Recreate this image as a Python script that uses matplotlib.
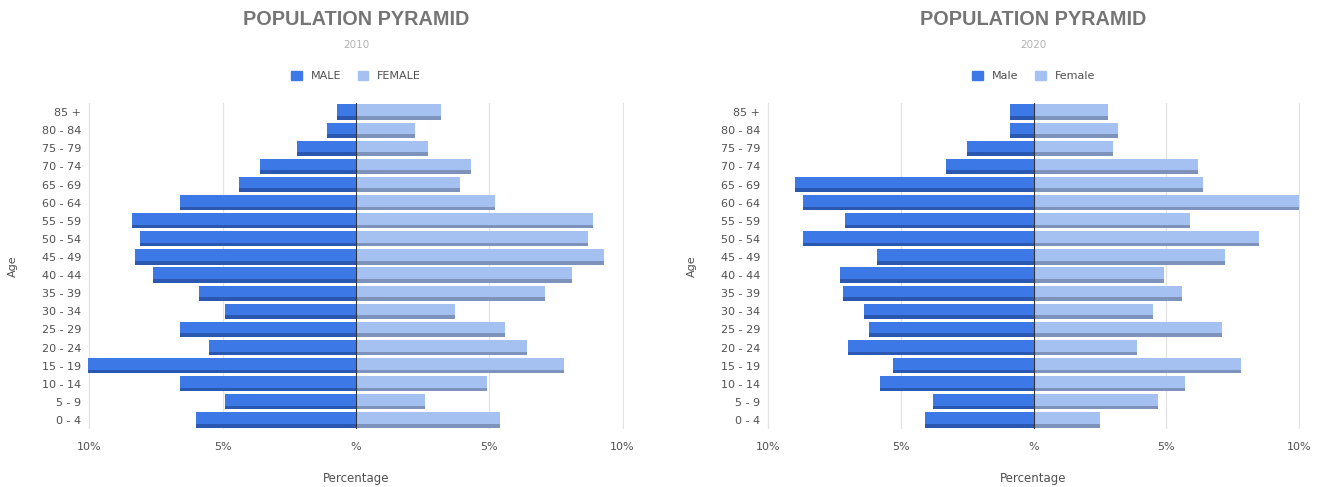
import numpy as np
import matplotlib.pyplot as plt
from matplotlib.patches import Patch

plt.rcParams['font.family'] = ['DejaVu Sans']

age_groups = ["0 - 4", "5 - 9", "10 - 14", "15 - 19", "20 - 24", "25 - 29", "30 - 34",
              "35 - 39", "40 - 44", "45 - 49", "50 - 54", "55 - 59", "60 - 64",
              "65 - 69", "70 - 74", "75 - 79", "80 - 84", "85 +"]

# percentages, listed from youngest to oldest
male_2010 = [6.0, 4.9, 6.6, 10.2, 5.5, 6.6, 4.9, 5.9, 7.6, 8.3, 8.1, 8.4, 6.6, 4.4, 3.6, 2.2, 1.1, 0.7]
female_2010 = [5.4, 2.6, 4.9, 7.8, 6.4, 5.6, 3.7, 7.1, 8.1, 9.3, 8.7, 8.9, 5.2, 3.9, 4.3, 2.7, 2.2, 3.2]
male_2020 = [4.1, 3.8, 5.8, 5.3, 7.0, 6.2, 6.4, 7.2, 7.3, 5.9, 8.7, 7.1, 8.7, 9.0, 3.3, 2.5, 0.9, 0.9]
female_2020 = [2.5, 4.7, 5.7, 7.8, 3.9, 7.1, 4.5, 5.6, 4.9, 7.2, 8.5, 5.9, 10.0, 6.4, 6.2, 3.0, 3.2, 2.8]

x_ticks = [-10, -5, 0, 5, 10]
x_ticklabels = ["10%", "5%", "%", "5%", "10%"]

MALE = "#3c78e6"
MALE_DARK = "#2a57b0"
FEMALE = "#a5c1f2"
FEMALE_DARK = "#7d93bb"
TEXT = "#505050"


def pyramid(ax, male, female, year, labels):
    y = np.arange(len(age_groups))
    h = 0.84
    male = -np.array(male)
    female = np.array(female)
    ax.barh(y, male, height=h, color=MALE, zorder=2)
    ax.barh(y, female, height=h, color=FEMALE, zorder=2)
    # darker bottom strip gives the bars their shaded look
    ax.barh(y - h / 2 + 0.1, male, height=0.2, color=MALE_DARK, zorder=3)
    ax.barh(y - h / 2 + 0.1, female, height=0.2, color=FEMALE_DARK, zorder=3)

    ax.set_xlim(-10.05, 10.05)
    ax.set_ylim(-0.5, len(age_groups) - 0.5)
    ax.set_yticks(y)
    ax.set_yticklabels(age_groups)
    ax.set_xticks(x_ticks)
    ax.set_xticklabels(x_ticklabels)
    ax.tick_params(axis="y", length=0, labelsize=8, labelcolor=TEXT, pad=5)
    ax.tick_params(axis="x", length=0, labelsize=8, labelcolor=TEXT, pad=9)
    for s in ax.spines.values():
        s.set_visible(False)
    for xv in [-10, -5, 5, 10]:
        ax.axvline(xv, color="#e3e3e3", linewidth=0.9, zorder=0)
    ax.axvline(0, color="#333333", linewidth=0.8, zorder=4)

    ax.set_xlabel("Percentage", fontsize=8.5, color=TEXT, labelpad=15)
    ax.set_ylabel("Age", fontsize=8, color=TEXT, labelpad=17)

    ax.text(0.5, 1.255, "POPULATION PYRAMID", transform=ax.transAxes, ha="center",
            va="center", fontsize=14.3, fontweight="bold", color="#757575",
            family="Liberation Sans")
    ax.text(0.5, 1.178, year, transform=ax.transAxes, ha="center", va="center",
            fontsize=7.5, color="#b3b3b3")
    handles = [Patch(color=MALE), Patch(color=FEMALE)]
    ax.legend(handles, labels, loc="center", bbox_to_anchor=(0.5, 1.083), ncol=2,
              frameon=False, fontsize=8, handlelength=0.95, handleheight=0.95,
              columnspacing=1.5, handletextpad=0.8, labelcolor=TEXT)


fig = plt.figure(figsize=(13.2, 4.87), dpi=100)
ax1 = fig.add_axes([0.0667, 0.119, 0.406, 0.6695])
ax2 = fig.add_axes([0.581, 0.119, 0.404, 0.6695])

pyramid(ax1, male_2010, female_2010, "2010", ["MALE", "FEMALE"])
pyramid(ax2, male_2020, female_2020, "2020", ["Male", "Female"])

fig.savefig("out.png", dpi=100)
